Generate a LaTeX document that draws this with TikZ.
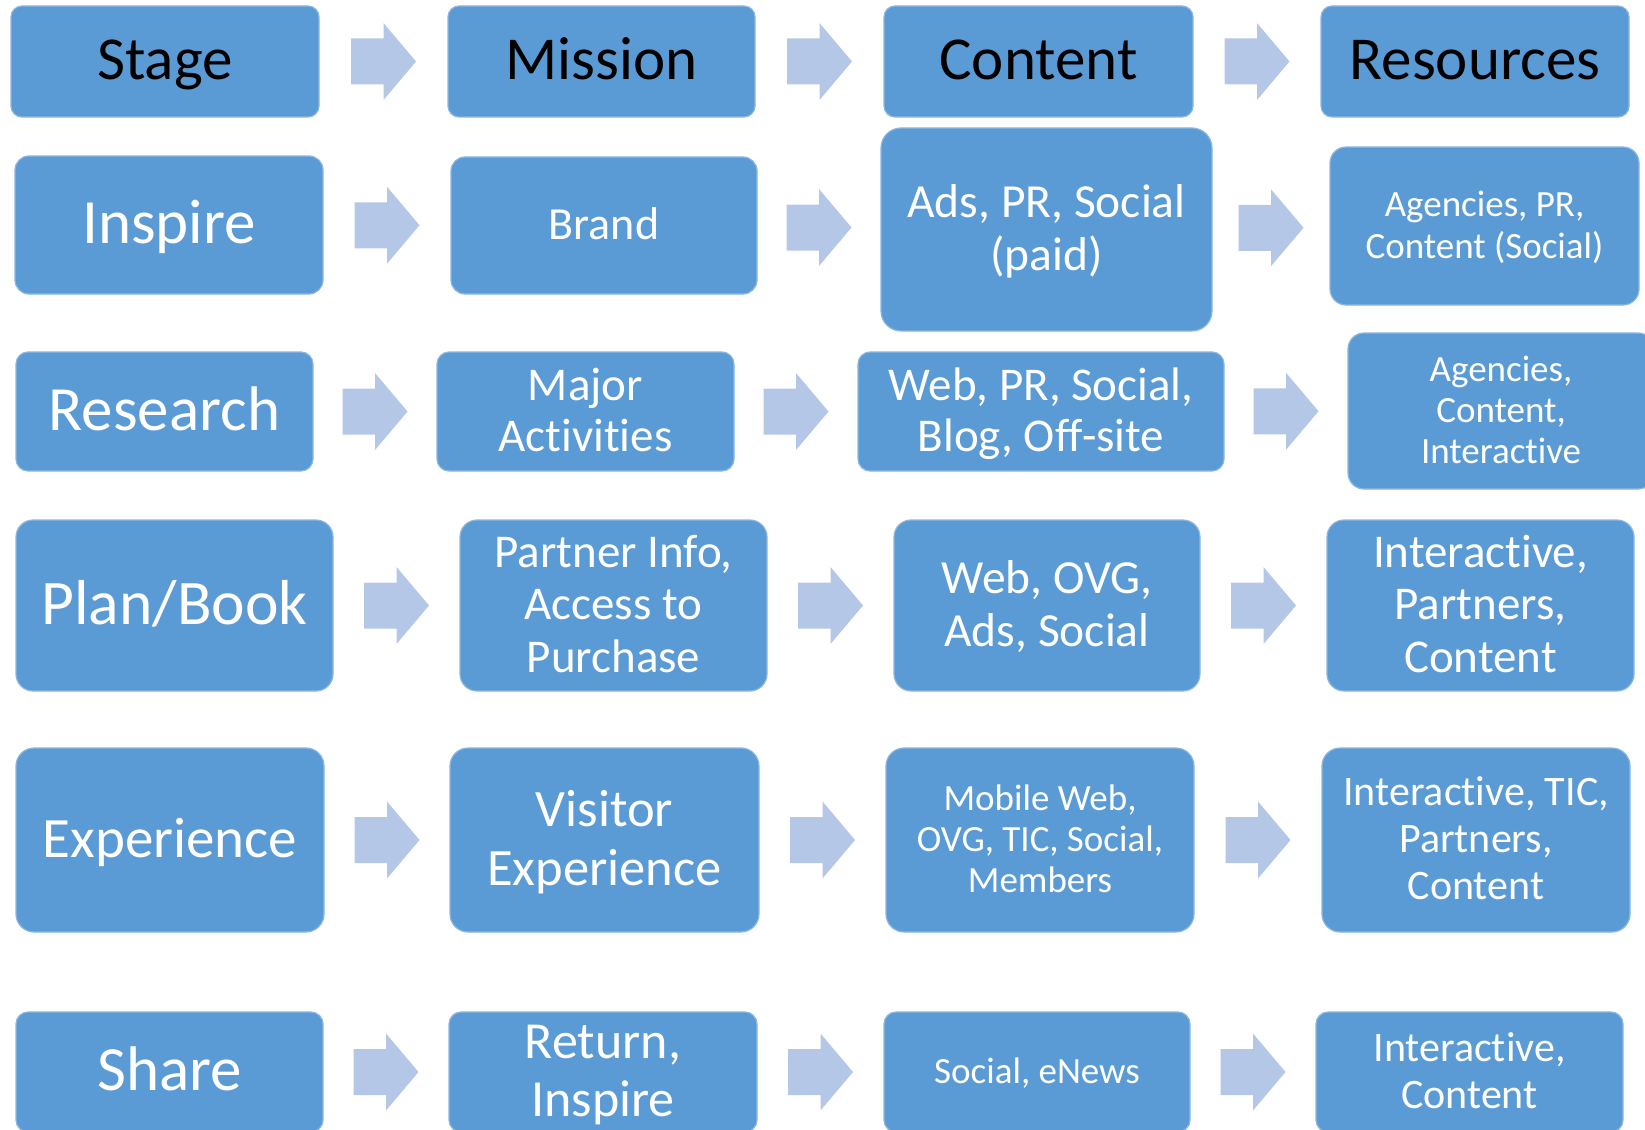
\documentclass[tikz,border=0pt]{standalone}
\usepackage{fontspec}
\setmainfont{Carlito}[Ligatures=NoCommon]
\usetikzlibrary{calc}
\definecolor{boxblue}{HTML}{5B9BD5}
\definecolor{arrowblue}{HTML}{B4C7E7}
\definecolor{edgeblue}{HTML}{8CB6E0}
\tikzset{
  box/.style={fill=boxblue, draw=edgeblue, line width=1.2pt, rounded corners=#1, inner sep=0pt, align=center, text=white},
  box/.default=11,
  head/.style={text=black},
  blockarrow/.pic={\fill[arrowblue] (-32.5,-23) -- (0,-23) -- (0,-38.5) -- (32.5,0) -- (0,38.5) -- (0,23) -- (-32.5,23) -- cycle;}
}
\newcommand\topstrut{\rule{0pt}{0.85em}}
\newcommand\botstrut{\rule[-0.25em]{0pt}{0.25em}}
\newcommand\bx[9][]{\node[box,#1,minimum width={#5-#3},minimum height={#6-#4},font=\fontsize{#7}{#8}\selectfont] (#2) at ({(#3+#5)/2},{(#4+#6)/2}) {\topstrut#9\botstrut};}
\newcommand\arr[2]{\pic at ($(#1.east)!0.5!(#2.west)$) {blockarrow};}
\begin{document}
\begin{tikzpicture}[x=1pt,y=-1pt]
\useasboundingbox (0,0) rectangle (1645,1129);
\clip (0,0) rectangle (1645,1129);
% row 1
\bx[head]{stage}{11}{6}{319}{117}{61}{70}{Stage}
\bx[head]{mission}{448}{6}{755}{117}{61}{70}{Mission}
\bx[head]{content}{884}{6}{1193}{117}{61}{70}{Content}
\bx[head]{resources}{1321}{6}{1629}{117}{61}{70}{Resources}
% row 2
\bx[box=14]{inspire}{15}{156}{323}{294}{63}{70}{Inspire}
\bx[box=14]{brand}{451}{157}{757}{294}{46}{51}{Brand}
\bx[box=20]{ads}{881}{128}{1212}{331}{47.5}{53}{Ads, PR, Social\\(paid)}
\bx[box=16]{agencies}{1330}{147}{1639}{305}{37}{42}{Agencies, PR,\\Content (Social)}
% row 3
\bx[box=12]{research}{16}{352}{313}{471}{63}{70}{Research}
\bx[box=12]{major}{437}{352}{734}{471}{47}{51}{Major\\Activities}
\bx[box=12]{webpr}{858}{352}{1224}{471}{47}{51}{Web, PR, Social,\\Blog, Off-site}
\bx[box=16]{agencies2}{1348}{333}{1654}{489}{37}{41}{Agencies,\\Content,\\Interactive}
% row 4
\bx[box=17]{plan}{16}{520}{333}{691}{63.5}{70}{Plan/Book}
\bx[box=17]{partner}{460}{520}{767}{691}{47}{52.5}{Partner Info,\\Access to\\Purchase}
\bx[box=17]{webovg}{894}{520}{1200}{691}{47.5}{52.5}{Web, OVG,\\Ads, Social}
\bx[box=17]{interactive}{1327}{520}{1634}{691}{47}{52.5}{Interactive,\\Partners,\\Content}
% row 5
\bx[box=18]{experience}{16}{748}{324}{932}{57}{64}{Experience}
\bx[box=18]{visitor}{450}{748}{759}{932}{52.5}{59}{Visitor\\Experience}
\bx[box=18]{mobile}{886}{748}{1194}{932}{37}{41}{Mobile Web,\\OVG, TIC, Social,\\Members}
\bx[box=18]{intertic}{1322}{748}{1630}{932}{42}{47}{Interactive, TIC,\\Partners,\\Content}
% row 6
\bx[box=12]{share}{16}{1012}{323}{1132}{63}{70}{Share}
\bx[box=12]{return}{449}{1012}{757}{1132}{52}{58}{Return,\\Inspire}
\bx[box=12]{socialnews}{884}{1012}{1190}{1132}{37}{41}{Social, eNews}
\bx[box=12]{intercontent}{1316}{1012}{1623}{1132}{42}{47}{Interactive,\\Content}
% arrows
\arr{stage}{mission}\arr{mission}{content}\arr{content}{resources}
\arr{inspire}{brand}\arr{brand}{ads}\arr{ads}{agencies}
\arr{research}{major}\arr{major}{webpr}\arr{webpr}{agencies2}
\arr{plan}{partner}\arr{partner}{webovg}\arr{webovg}{interactive}
\arr{experience}{visitor}\arr{visitor}{mobile}\arr{mobile}{intertic}
\arr{share}{return}\arr{return}{socialnews}\arr{socialnews}{intercontent}
\end{tikzpicture}
\end{document}
